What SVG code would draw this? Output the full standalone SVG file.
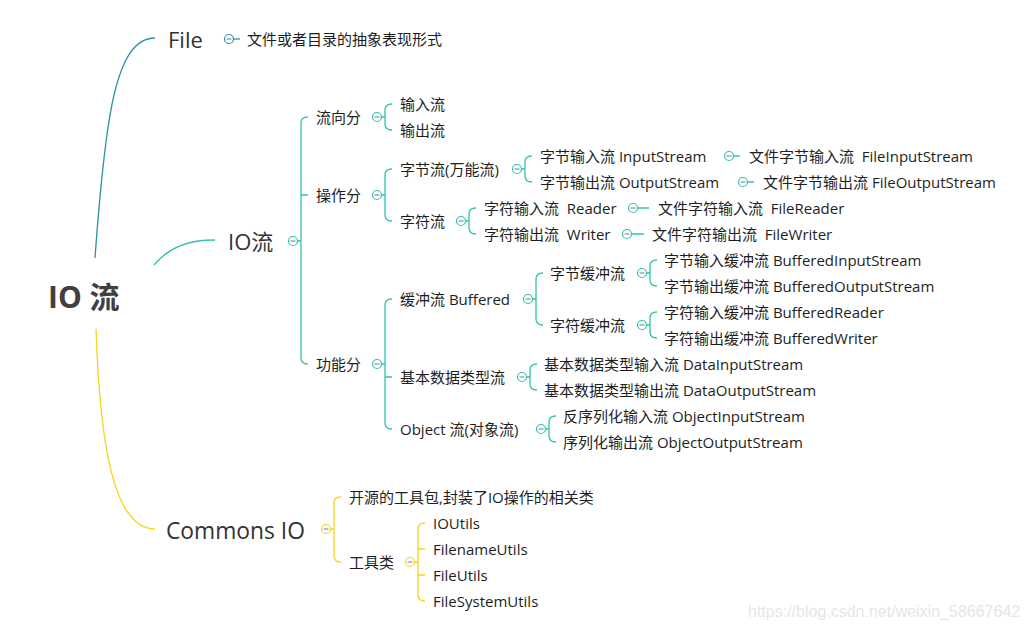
<svg xmlns="http://www.w3.org/2000/svg" width="1028" height="629" viewBox="0 0 1028 629">
<style>
text{font-family:"Open Sans","Noto Sans CJK SC",sans-serif;fill:#1e1e1e;font-size:15px;dominant-baseline:central;white-space:pre}
.root{font-size:30px;font-weight:bold;fill:#404040}
.main{font-size:22px;fill:#333}
.cm{font-size:22.8px}
.c{fill:none;stroke-width:1.3}
.t{stroke:#33c3ad}
.b{stroke:#2f91a8}
.y{stroke:#f6d41c}
.k{fill:#fff;stroke-width:1.2}
.m{stroke:#8a8ab0;stroke-width:1.2}
.wm{font-family:"Liberation Sans",sans-serif;fill:#e6e6e6;font-size:16px}
</style>
<defs>
<g id="mt"><circle r="4.5" class="k t"/><line x1="-2.5" x2="2.5" class="m"/></g>
<g id="mb"><circle r="4.5" class="k b"/><line x1="-2.5" x2="2.5" class="m"/></g>
<g id="my"><circle r="4.5" class="k y"/><line x1="-2.5" x2="2.5" class="m"/></g>
</defs>
<g id="connectors">
<path class="c b" d="M95 258 C105 120 115 38 155 38"/>
<path class="c t" d="M154 265 C170 246 190 240 215 240"/>
<path class="c y" d="M96 329 C100 450 115 529 155 529"/>
<path class="c b" d="M233 39 H240"/>
<path class="c t" d="M297 241 H301 M308 117 Q301 117 301 123 V358 Q301 364 308 364 M301 195 H308"/>
<path class="c t" d="M381 117 H385 M392 104 Q385 104 385 110 V124 Q385 130 392 130"/>
<path class="c t" d="M381 195 H385 M392 169 Q385 169 385 175 V215 Q385 221 392 221"/>
<path class="c t" d="M521 169 H525 M532 156 Q525 156 525 162 V176 Q525 182 532 182"/>
<path class="c t" d="M465 221 H469 M476 208 Q469 208 469 214 V228 Q469 234 476 234"/>
<path class="c t" d="M733 156 H740 M747 182 H754 M637 208 H649 M631 234 H644"/>
<path class="c t" d="M381 364 H385 M392 299 Q385 299 385 305 V423 Q385 429 392 429 M385 377 H392"/>
<path class="c t" d="M532 299 H536 M543 273 Q536 273 536 279 V319 Q536 325 543 325"/>
<path class="c t" d="M646 273 H650 M657 260 Q650 260 650 266 V280 Q650 286 657 286"/>
<path class="c t" d="M646 325 H650 M657 312 Q650 312 650 318 V332 Q650 338 657 338"/>
<path class="c t" d="M526 377 H530 M537 364 Q530 364 530 370 V384 Q530 390 537 390"/>
<path class="c t" d="M545 429 H549 M556 416 Q549 416 549 422 V436 Q549 442 556 442"/>
<path class="c y" d="M330 529 H334 M341 497 Q334 497 334 503 V556 Q334 562 341 562"/>
<path class="c y" d="M414 562 H418 M425 523 Q418 523 418 529 V595 Q418 601 425 601 M418 549 H425 M418 575 H425"/>
</g>
<g id="root"><text class="root" x="48" y="296">IO 流</text></g>
<g id="file"><text class="main" x="168" y="39">File</text><use href="#mb" x="229" y="39"/></g>
<g id="file-desc"><text x="247" y="39">文件或者目录的抽象表现形式</text></g>
<g id="io"><text class="main" x="228" y="241">IO流</text><use href="#mt" x="293" y="241"/></g>
<g id="n-flow"><text x="316" y="117">流向分</text><use href="#mt" x="377" y="117"/></g>
<g id="n-in"><text x="400" y="104">输入流</text></g>
<g id="n-out"><text x="400" y="130">输出流</text></g>
<g id="n-op"><text x="316" y="195">操作分</text><use href="#mt" x="377" y="195"/></g>
<g id="n-byte"><text x="400" y="169">字节流(万能流)</text><use href="#mt" x="517" y="169"/></g>
<g id="n-bin"><text x="540" y="156">字节输入流 InputStream</text><use href="#mt" x="729" y="156"/></g>
<g id="n-fin"><text x="749" y="156">文件字节输入流  FileInputStream</text></g>
<g id="n-bout"><text x="540" y="182">字节输出流 OutputStream</text><use href="#mt" x="743" y="182"/></g>
<g id="n-fout"><text x="763" y="182">文件字节输出流 FileOutputStream</text></g>
<g id="n-char"><text x="400" y="221">字符流</text><use href="#mt" x="461" y="221"/></g>
<g id="n-reader"><text x="484" y="208">字符输入流  Reader</text><use href="#mt" x="633" y="208"/></g>
<g id="n-freader"><text x="658" y="208">文件字符输入流  FileReader</text></g>
<g id="n-writer"><text x="484" y="234">字符输出流  Writer</text><use href="#mt" x="627" y="234"/></g>
<g id="n-fwriter"><text x="652" y="234">文件字符输出流  FileWriter</text></g>
<g id="n-func"><text x="316" y="364">功能分</text><use href="#mt" x="377" y="364"/></g>
<g id="n-buf"><text x="400" y="299">缓冲流 Buffered</text><use href="#mt" x="528" y="299"/></g>
<g id="n-bbuf"><text x="550" y="273">字节缓冲流</text><use href="#mt" x="642" y="273"/></g>
<g id="n-bis"><text x="664" y="260">字节输入缓冲流 BufferedInputStream</text></g>
<g id="n-bos"><text x="664" y="286">字节输出缓冲流 BufferedOutputStream</text></g>
<g id="n-cbuf"><text x="550" y="325">字符缓冲流</text><use href="#mt" x="642" y="325"/></g>
<g id="n-br"><text x="664" y="312">字符输入缓冲流 BufferedReader</text></g>
<g id="n-bw"><text x="664" y="338">字符输出缓冲流 BufferedWriter</text></g>
<g id="n-data"><text x="400" y="377">基本数据类型流</text><use href="#mt" x="522" y="377"/></g>
<g id="n-dis"><text x="544" y="364">基本数据类型输入流 DataInputStream</text></g>
<g id="n-dos"><text x="544" y="390">基本数据类型输出流 DataOutputStream</text></g>
<g id="n-obj"><text x="400" y="429">Object 流(对象流)</text><use href="#mt" x="541" y="429"/></g>
<g id="n-ois"><text x="563" y="416">反序列化输入流 ObjectInputStream</text></g>
<g id="n-oos"><text x="563" y="442">序列化输出流 ObjectOutputStream</text></g>
<g id="commons"><text class="main cm" x="166" y="530">Commons IO</text><use href="#my" x="326" y="529"/></g>
<g id="c-desc"><text x="349" y="497">开源的工具包,封装了IO操作的相关类</text></g>
<g id="c-tools"><text x="349" y="562">工具类</text><use href="#my" x="410" y="562"/></g>
<g id="c-io"><text x="433" y="523">IOUtils</text></g>
<g id="c-fn"><text x="433" y="549">FilenameUtils</text></g>
<g id="c-fu"><text x="433" y="575">FileUtils</text></g>
<g id="c-fs"><text x="433" y="601">FileSystemUtils</text></g>
<text class="wm" x="748" y="611">https://blog.csdn.net/weixin_58667642</text>
</svg>
